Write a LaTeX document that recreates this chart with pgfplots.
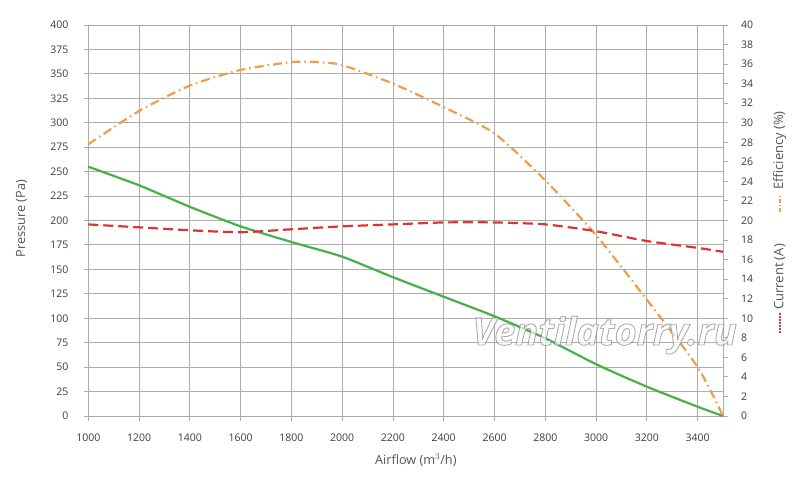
\documentclass[border=0pt]{standalone}
\usepackage{pgfplots}
\pgfplotsset{compat=1.18}
\usepackage{fontspec}
\setmainfont{Open Sans}
\definecolor{gridc}{RGB}{172,172,172}
\definecolor{txtc}{RGB}{60,60,60}
\definecolor{labc}{RGB}{85,85,85}
\definecolor{pgreen}{RGB}{70,176,74}
\definecolor{porange}{RGB}{238,158,72}
\definecolor{pred}{RGB}{218,52,52}
\definecolor{wmc}{RGB}{150,150,150}
\begin{document}
\begin{tikzpicture}
\useasboundingbox (-88.3pt,-63pt) rectangle (711.7pt,416pt);
\begin{axis}[
  at={(0,0)}, anchor=south west, scale only axis,
  width=634.7pt, height=391pt,
  xmin=1000, xmax=3500, ymin=0, ymax=400,
  xtick={1000,1200,...,3400}, ytick={0,25,...,400},
  xtick pos=bottom, ytick pos=left,
  tick align=outside, major tick length=4.5pt,
  grid=major, major grid style={gridc, line width=0.9pt},
  axis line style={gridc, line width=0.9pt},
  tick style={gridc, line width=0.9pt},
  ticklabel style={font=\fontsize{10.5}{12}\selectfont, text=txtc},
  yticklabel style={xshift=-12pt},
  xticklabel style={yshift=-10pt},
  /pgf/number format/assume math mode=true,
  /pgf/number format/1000 sep={},
  xlabel={Airflow (m$^3$/h)}, ylabel={Pressure (Pa)},
  label style={font=\fontsize{12.7}{14}\selectfont, text=labc},
  xlabel style={at={(axis description cs:0.516,-0.1125)}, anchor=center},
  ylabel style={at={(axis description cs:-0.105,0.505)}, anchor=center},
  clip=false,
]
\addplot[pgreen, line width=2.2pt, smooth, tension=0.4] coordinates {
(1000,255) (1200,236) (1400,214) (1600,194) (1800,178)
(2000,163) (2200,142) (2400,122) (2600,102) (2800,79.5) (3000,53)
(3200,30) (3400,9.5) (3500,0)};
\end{axis}
\begin{axis}[
  at={(0,0)}, anchor=south west, scale only axis,
  width=634.7pt, height=391pt,
  xmin=1000, xmax=3500, ymin=0, ymax=40,
  axis x line=none, axis y line*=right,
  ytick={0,2,...,40},
  tick align=outside, major tick length=4.5pt,
  axis line style={gridc, line width=0.9pt},
  tick style={gridc, line width=0.9pt},
  ticklabel style={font=\fontsize{10.5}{12}\selectfont, text=txtc},
  yticklabel style={xshift=10pt},
  /pgf/number format/assume math mode=true,
  clip=false,
]
\addplot[porange, line width=2.2pt, smooth, tension=0.4, dash pattern=on 9pt off 4pt on 1.5pt off 4pt] coordinates {
(1000,27.8) (1200,31.2) (1400,33.8) (1600,35.4) (1800,36.2) (1900,36.2)
(2000,35.9) (2200,34.0) (2400,31.6) (2600,28.9) (2800,24.1) (3000,18.5)
(3200,11.9) (3400,5.0) (3500,0)};
\addplot[pred, line width=2.2pt, smooth, tension=0.4, dash pattern=on 10pt off 5pt] coordinates {
(1000,19.6) (1200,19.3) (1400,19.0) (1600,18.8) (1800,19.1) (2000,19.4)
(2200,19.6) (2400,19.8) (2600,19.8) (2800,19.6) (3000,18.9) (3200,17.9)
(3400,17.2) (3500,16.8)};
\end{axis}
\node[anchor=base west, font=\fontsize{38}{40}\selectfont\bfseries\itshape, text=white, opacity=0.65, inner sep=0pt]
  at (384pt,71pt) {\special{pdf:code 2 Tr 0.9 w 0.5 G}Ventilatorry.ru\special{pdf:code 0 Tr}};
\node[rotate=90, anchor=west, font=\fontsize{13}{15}\selectfont, text=labc, inner sep=0pt] at (691.5pt,226pt) {Efficiency (\%)};
\draw[porange, line width=1.6pt, dash pattern=on 4pt off 2pt on 1.2pt off 2pt] (691.5pt,204pt) -- (691.5pt,221pt);
\node[rotate=90, anchor=west, font=\fontsize{13}{15}\selectfont, text=labc, inner sep=0pt] at (691.5pt,106pt) {Current (A)};
\draw[pred, line width=1.6pt, dash pattern=on 2pt off 1pt] (691.5pt,83pt) -- (691.5pt,103pt);
\end{tikzpicture}
\end{document}
